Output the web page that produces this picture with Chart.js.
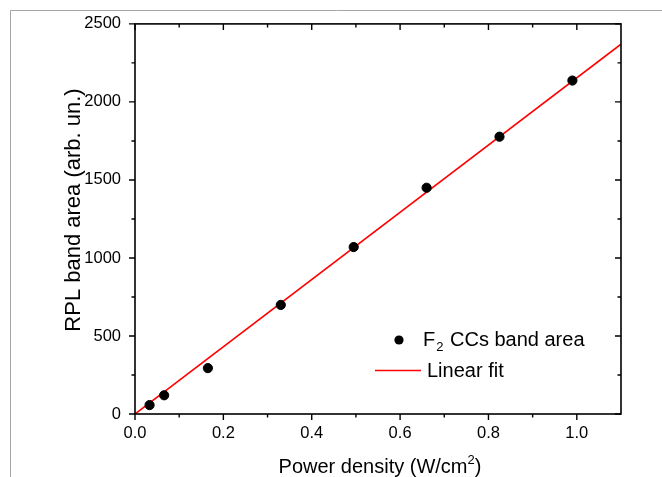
<!DOCTYPE html>
<html><head><meta charset="utf-8">
<script src="https://cdn.jsdelivr.net/npm/chart.js@4"></script>
<style>html,body{margin:0;padding:0;background:#fff}#wrap{width:662px;height:477px}</style>
</head><body><div id="wrap"><canvas id="c" width="662" height="477"></canvas></div>
<script>
// ---- data ----
const powerDensity = [0.033, 0.066, 0.165, 0.33, 0.495, 0.66, 0.825, 0.99];
const bandArea = [57, 120, 294, 699, 1070, 1450, 1777, 2137];
const fitX = [0, 1.1];
const fitY = [0, 2370];
const xTicks = [0, 0.2, 0.4, 0.6, 0.8, 1.0];
const yTicks = [0, 500, 1000, 1500, 2000, 2500];
const xMinorTicks = [0.1, 0.3, 0.5, 0.7, 0.9];
const yMinorTicks = [250, 750, 1250, 1750, 2250];
const seriesNames = ['F2 CCs band area', 'Linear fit'];
const xTitleParts = ['Power density (W/cm', '2', ')'];
const yTitle = 'RPL band area (arb. un.)';

const FONT = "'Liberation Sans', Arial, sans-serif";

const scatterData = powerDensity.map((x, i) => ({x, y: bandArea[i]}));
const fitData = fitX.map((x, i) => ({x, y: fitY[i]}));

const decor = {
  id: 'decor',
  beforeDraw(chart) {
    const ctx = chart.ctx;
    ctx.save();
    ctx.strokeStyle = '#a6a6a6';
    ctx.lineWidth = 1;
    ctx.beginPath();
    ctx.moveTo(10.5, 477); ctx.lineTo(10.5, 10.5); ctx.lineTo(662, 10.5);
    ctx.stroke();
    ctx.restore();
  },
  afterDraw(chart) {
    const ctx = chart.ctx;
    const a = chart.chartArea;
    const xs = chart.scales.x, ys = chart.scales.y;
    ctx.save();
    ctx.strokeStyle = '#000';
    ctx.lineWidth = 1.6;
    ctx.strokeRect(a.left, a.top, a.right - a.left, a.bottom - a.top);
    ctx.lineWidth = 1.4;
    ctx.beginPath();
    const tick = (vals, len) => {
      vals.forEach(v => {
        const px = xs.getPixelForValue(v);
        ctx.moveTo(px, a.bottom); ctx.lineTo(px, a.bottom + len);
        ctx.moveTo(px, a.top); ctx.lineTo(px, a.top + len);
      });
    };
    const ytick = (vals, len) => {
      vals.forEach(v => {
        const py = ys.getPixelForValue(v);
        ctx.moveTo(a.left, py); ctx.lineTo(a.left - len, py);
        ctx.moveTo(a.right, py); ctx.lineTo(a.right - len, py);
      });
    };
    tick(xTicks, 6); tick(xMinorTicks, 3.5);
    ytick(yTicks, 6); ytick(yMinorTicks, 3.5);
    ctx.stroke();

    // axis titles
    ctx.fillStyle = '#000';
    ctx.textBaseline = 'alphabetic';
    const big = '20px ' + FONT, small = '13px ' + FONT;
    ctx.font = big;
    const w0 = ctx.measureText(xTitleParts[0]).width;
    ctx.font = small;
    const w1 = ctx.measureText(xTitleParts[1]).width;
    ctx.font = big;
    const w2 = ctx.measureText(xTitleParts[2]).width;
    let sx = (a.left + a.right) / 2 + 2 - (w0 + w1 + w2) / 2;
    const by = 473;
    ctx.textAlign = 'left';
    ctx.fillText(xTitleParts[0], sx, by);
    ctx.font = small;
    ctx.fillText(xTitleParts[1], sx + w0, by - 9);
    ctx.font = big;
    ctx.fillText(xTitleParts[2], sx + w0 + w1, by);

    ctx.save();
    ctx.translate(80, 210);
    ctx.rotate(-Math.PI / 2);
    ctx.font = '22px ' + FONT;
    ctx.textAlign = 'center';
    ctx.fillText(yTitle, 0, 0);
    ctx.restore();

    // legend
    const ds = chart.data.datasets;
    ctx.fillStyle = '#000';
    ctx.beginPath();
    ctx.arc(399, 340, 4.6, 0, Math.PI * 2);
    ctx.fill();
    const lf = '20px ' + FONT;
    ctx.font = lf;
    ctx.textAlign = 'left';
    const name0 = ds[0].label;
    ctx.fillText(name0.slice(0, 1), 423, 346);
    const fw = ctx.measureText(name0.slice(0, 1)).width;
    ctx.font = '13px ' + FONT;
    ctx.fillText(name0.slice(1, 2), 423 + fw + 1, 351);
    const sw = ctx.measureText(name0.slice(1, 2)).width;
    ctx.font = lf;
    ctx.fillText(name0.slice(2), 423 + fw + sw + 2, 346);

    ctx.strokeStyle = ds[1].borderColor;
    ctx.lineWidth = 1.5;
    ctx.beginPath();
    ctx.moveTo(375, 370.5); ctx.lineTo(421, 370.5);
    ctx.stroke();
    ctx.fillText(ds[1].label, 427, 377);
    ctx.restore();
  }
};

new Chart(document.getElementById('c'), {
  type: 'scatter',
  data: {
    datasets: [
      {label: seriesNames[0], data: scatterData, backgroundColor: '#000', borderColor: '#000',
       pointRadius: 4.6, pointHoverRadius: 4.6, showLine: false, order: 1},
      {label: seriesNames[1], data: fitData, borderColor: '#ff0000', backgroundColor: '#ff0000',
       borderWidth: 1.6, pointRadius: 0, showLine: true, order: 2}
    ]
  },
  options: {
    responsive: false,
    animation: false,
    devicePixelRatio: 1,
    layout: {padding: {left: 0, top: 23, right: 41, bottom: 0}},
    plugins: {legend: {display: false}, tooltip: {enabled: false}},
    scales: {
      x: {
        type: 'linear', min: 0, max: 1.1,
        afterBuildTicks: s => { s.ticks = xTicks.map(v => ({value: v})); },
        afterFit: s => { s.height = 63; },
        grid: {display: false, drawTicks: false},
        border: {display: false},
        ticks: {font: {family: FONT, size: 16.5}, color: '#000', padding: 10, maxRotation: 0, autoSkip: false,
                callback: v => Number(v).toFixed(1)}
      },
      y: {
        type: 'linear', min: 0, max: 2500,
        afterBuildTicks: s => { s.ticks = yTicks.map(v => ({value: v})); },
        afterFit: s => { s.width = 135; },
        grid: {display: false, drawTicks: false},
        border: {display: false},
        ticks: {font: {family: FONT, size: 16.5}, color: '#000', padding: 14, autoSkip: false,
                callback: v => String(v)}
      }
    }
  },
  plugins: [decor]
});
</script>
</body></html>
